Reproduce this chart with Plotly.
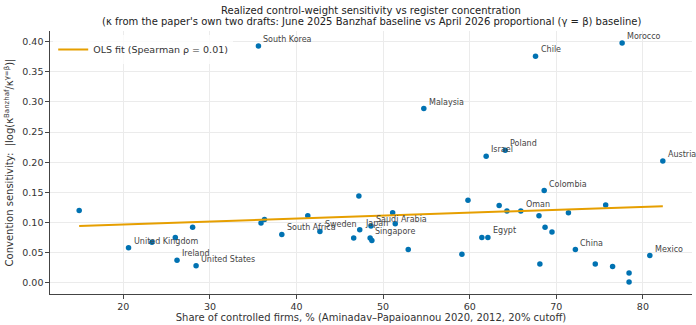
import numpy as np
import plotly.graph_objects as go

# Countries with a name label: share of controlled firms (%) and convention sensitivity
labeled_names = [
    "South Korea", "Chile", "Morocco", "Malaysia", "Israel", "Poland", "Austria",
    "Colombia", "Oman", "Egypt", "China", "Mexico", "Saudi Arabia", "Japan",
    "Singapore", "Sweden", "South Africa", "United Kingdom", "Ireland", "United States",
]
labeled_share = [35.6, 67.6, 77.6, 54.7, 61.9, 64.1, 82.3,
                 68.6, 65.9, 62.1, 72.2, 80.8, 48.6, 47.3,
                 48.5, 42.7, 38.3, 20.6, 26.2, 28.4]
labeled_sens = [0.393, 0.376, 0.398, 0.289, 0.210, 0.220, 0.202,
                0.153, 0.119, 0.075, 0.055, 0.045, 0.094, 0.088,
                0.074, 0.085, 0.080, 0.058, 0.037, 0.028]

# Remaining countries (drawn without labels)
other_share = [14.9, 23.3, 26.0, 28.0, 35.9, 36.3, 41.3, 46.6, 47.2, 48.7,
               51.1, 51.4, 52.9, 59.8, 59.1, 61.4, 63.4, 64.3, 68.0, 68.7,
               69.5, 71.4, 75.7, 68.1, 74.5, 76.5, 78.4, 78.4]
other_sens = [0.120, 0.067, 0.075, 0.092, 0.099, 0.105, 0.111, 0.074, 0.144, 0.070,
              0.116, 0.098, 0.055, 0.137, 0.047, 0.075, 0.128, 0.119, 0.111, 0.092,
              0.084, 0.116, 0.129, 0.031, 0.031, 0.027, 0.016, 0.001]

# OLS fit coefficients and rank correlation
fit_intercept = 0.0867
fit_slope = 0.00049
spearman_rho = 0.01

x_ticks = [20, 30, 40, 50, 60, 70, 80]
y_ticks = [0.00, 0.05, 0.10, 0.15, 0.20, 0.25, 0.30, 0.35, 0.40]

title_lines = [
    "Realized control-weight sensitivity vs register concentration",
    "(κ from the paper's own two drafts: June 2025 Banzhaf baseline vs "
    "April 2026 proportional (γ = β) baseline)",
]

all_x = np.array(labeled_share + other_share)
all_y = np.array(labeled_sens + other_sens)
fit_x = np.array([all_x.min(), all_x.max()])
fit_y = fit_intercept + fit_slope * fit_x

# matplotlib-style 5% margins around the data
xpad = 0.05 * (all_x.max() - all_x.min())
ypad = 0.05 * (all_y.max() - all_y.min())

POINT = "#0072B2"
FIT = "#E69F00"
TXT = "#333333"
FONT = "DejaVu Sans"

fig = go.Figure()
fig.add_trace(go.Scatter(
    x=labeled_share + other_share, y=labeled_sens + other_sens,
    mode="markers", marker=dict(color=POINT, size=5.5, line=dict(width=0)),
    showlegend=False, hoverinfo="skip",
))
fig.add_trace(go.Scatter(
    x=fit_x, y=fit_y, mode="lines",
    line=dict(color=FIT, width=2),
    name=f"OLS fit (Spearman ρ = {spearman_rho:.2f})",
))

for name, xv, yv in zip(labeled_names, labeled_share, labeled_sens):
    fig.add_annotation(
        x=xv, y=yv, text=name, showarrow=False,
        xanchor="left", yanchor="bottom", xshift=3, yshift=0,
        font=dict(family=FONT, size=8, color="#444444"),
    )

# two-line title, centred over the plotting area
for line, ypos in zip(title_lines, [1.079, 1.037]):
    fig.add_annotation(
        x=0.5, y=ypos, xref="paper", yref="paper", text=line, showarrow=False,
        xanchor="center", yanchor="middle",
        font=dict(family=FONT, size=10, color="#222222"),
    )

axis_common = dict(
    showgrid=True, gridcolor="#ebebeb", gridwidth=1,
    zeroline=False, showline=True, linecolor="#444444", linewidth=1.3,
    ticks="outside", ticklen=3.5, tickwidth=1, tickcolor="#444444",
    tickfont=dict(family=FONT, size=9.5, color=TXT),
    mirror=False,
)

fig.update_layout(
    width=696, height=325,
    margin=dict(l=50, r=4, t=31, b=28),
    paper_bgcolor="white", plot_bgcolor="white",
    font=dict(family=FONT, color=TXT),
    xaxis=dict(
        range=[all_x.min() - xpad, all_x.max() + xpad],
        tickvals=x_ticks,
        title=dict(text="Share of controlled firms, % (Aminadav–Papaioannou 2020, 2012, 20% cutoff)",
                   font=dict(family=FONT, size=10, color=TXT), standoff=2),
        **axis_common,
    ),
    yaxis=dict(
        range=[all_y.min() - ypad, all_y.max() + ypad],
        tickvals=y_ticks, tickformat=".2f",
        title=dict(text="Convention sensitivity:  |log(κ<sup>Banzhaf</sup>/κ<sup>γ=β</sup>)|",
                   font=dict(family=FONT, size=10, color=TXT), standoff=6),
        **axis_common,
    ),
    legend=dict(
        x=0.005, y=0.985, xanchor="left", yanchor="top",
        bgcolor="rgba(255,255,255,0.8)", borderwidth=0,
        font=dict(family=FONT, size=9.5, color=TXT),
        itemwidth=30,
    ),
)

fig.write_html("out.html")
